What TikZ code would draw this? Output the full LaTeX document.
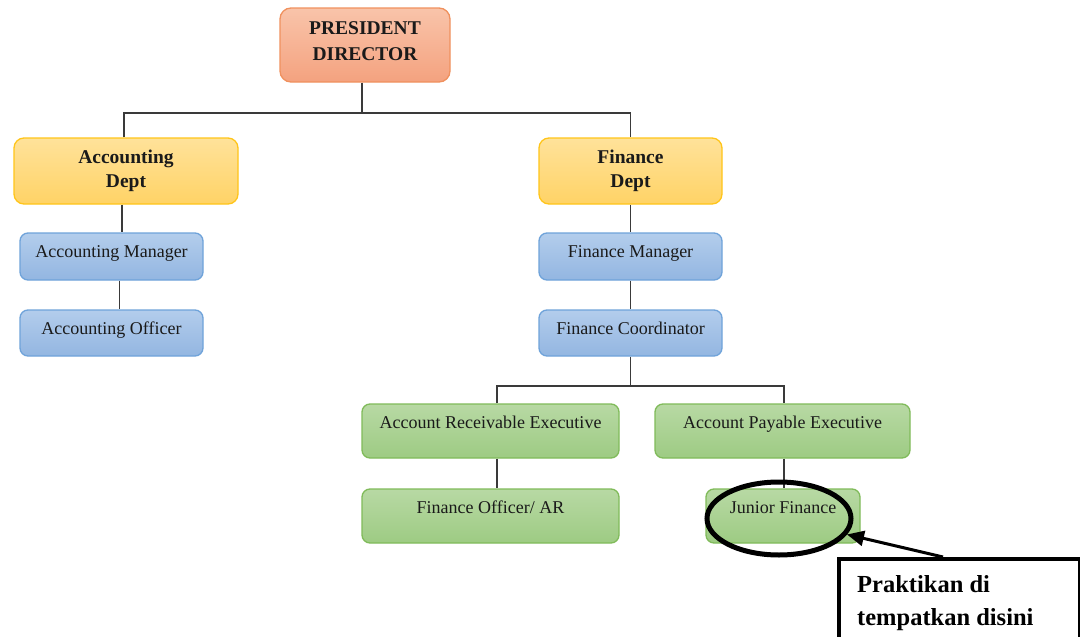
\documentclass[tikz,border=0pt]{standalone}
\usepackage{fontspec}
\setmainfont{Liberation Serif}
\usetikzlibrary{shapes.geometric,arrows.meta}
\definecolor{txt}{HTML}{1A1A1A}
\definecolor{presTop}{HTML}{F9C4AA}
\definecolor{presBot}{HTML}{F4A27F}
\definecolor{presLine}{HTML}{F0915E}
\definecolor{deptTop}{HTML}{FFE29A}
\definecolor{deptBot}{HTML}{FFD366}
\definecolor{deptLine}{HTML}{FFC51A}
\definecolor{blueTop}{HTML}{B3CDEC}
\definecolor{blueBot}{HTML}{93B6E1}
\definecolor{blueLine}{HTML}{6FA3DA}
\definecolor{greenTop}{HTML}{B8D9A4}
\definecolor{greenBot}{HTML}{9DCB83}
\definecolor{greenLine}{HTML}{80BB5A}
\definecolor{linkc}{HTML}{3A3A3A}
\begin{document}
\begin{tikzpicture}[x=1pt,y=-1pt,
  box/.style={draw, rounded corners=8pt, line width=1.3pt, inner sep=0pt, align=center, text=txt},
  presbox/.style={box, rounded corners=11pt, top color=presTop, bottom color=presBot, draw=presLine,
    minimum width=170pt, minimum height=74pt, font=\fontsize{19.5}{26}\selectfont\bfseries, text depth=7pt},
  deptbox/.style={box, rounded corners=10pt, top color=deptTop, bottom color=deptBot, draw=deptLine,
    minimum height=66pt, font=\fontsize{19.5}{23.5}\selectfont\bfseries},
  rolebox/.style={box, top color=blueTop, bottom color=blueBot, draw=blueLine,
    minimum width=183pt, font=\fontsize{18}{22}\selectfont, text height=12pt, text depth=9.5pt},
  execbox/.style={box, top color=greenTop, bottom color=greenBot, draw=greenLine,
    minimum height=54pt, font=\fontsize{18}{22}\selectfont, text height=12pt, text depth=18pt},
  link/.style={draw=linkc, line width=1.4pt},
  mark ring/.style={draw=black, ellipse, line width=5pt, inner sep=0pt, minimum width=144pt, minimum height=73pt},
  notebox/.style={draw=black, line width=4pt, inner sep=0pt, anchor=north west, minimum width=241pt, minimum height=120pt},
  notetext/.style={anchor=north west, align=left, inner sep=0pt, text=black, font=\fontsize{24.5}{33}\selectfont\bfseries},
  pointer/.style={draw=black, line width=3pt, -{Triangle[length=17pt,width=15pt]}}
]
\useasboundingbox (0,0) rectangle (1080,637);
\clip (0,0) rectangle (1080,637);
\fill[white] (0,0) rectangle (1080,637);

% nodes
\node[presbox] (pres) at (365,45) {PRESIDENT\\DIRECTOR};
\node[deptbox, minimum width=224pt] (acc) at (126,171) {Accounting\\Dept};
\node[deptbox, minimum width=183pt] (fin) at (630.5,171) {Finance\\Dept};
\node[rolebox, minimum height=47pt] (am) at (111.5,256.5) {Accounting Manager};
\node[rolebox, minimum height=46pt] (ao) at (111.5,333) {Accounting Officer};
\node[rolebox, minimum height=47pt] (fm) at (630.5,256.5) {Finance Manager};
\node[rolebox, minimum height=46pt] (fc) at (630.5,333) {Finance Coordinator};
\node[execbox, minimum width=257pt] (are) at (490.5,431) {Account Receivable Executive};
\node[execbox, minimum width=255pt] (ape) at (782.5,431) {Account Payable Executive};
\node[execbox, minimum width=257pt] (fo) at (490.5,516) {Finance Officer/ AR};
\node[execbox, minimum width=154pt] (jf) at (783,516) {Junior Finance};

% connectors
\coordinate (bus1) at (362,113);
\coordinate (bus2) at (630.5,386);
\draw[link] ([xshift=-3pt]pres.south) -- (bus1);
\draw[link] ([xshift=-2pt]acc.north) |- (bus1) -| (fin.north);
\draw[link] ([xshift=-4pt]acc.south) -- ([xshift=-4pt]acc.south |- am.north);
\draw[link] ([xshift=8pt]am.south) -- ([xshift=8pt]ao.north);
\draw[link] (fin.south) -- (fm.north);
\draw[link] (fm.south) -- (fc.north);
\draw[link] (fc.south) -- (bus2);
\draw[link] ([xshift=6.5pt]are.north) |- (bus2) -| ([xshift=1.5pt]ape.north);
\draw[link] ([xshift=6.5pt]are.south) -- ([xshift=6.5pt]fo.north);
\draw[link] ([xshift=1.5pt]ape.south) -- ([xshift=1.5pt]ape.south |- jf.north);

% highlight and note
\node[mark ring] (circ) at (779,518.5) {};
\node[notebox] (note) at (837,557) {};
\node[notetext] (noteText) at (857,575) {Praktikan di\\tempatkan disini};
\coordinate (tail) at (943,557);
\draw[pointer] (tail) -- (circ);
\end{tikzpicture}
\end{document}
